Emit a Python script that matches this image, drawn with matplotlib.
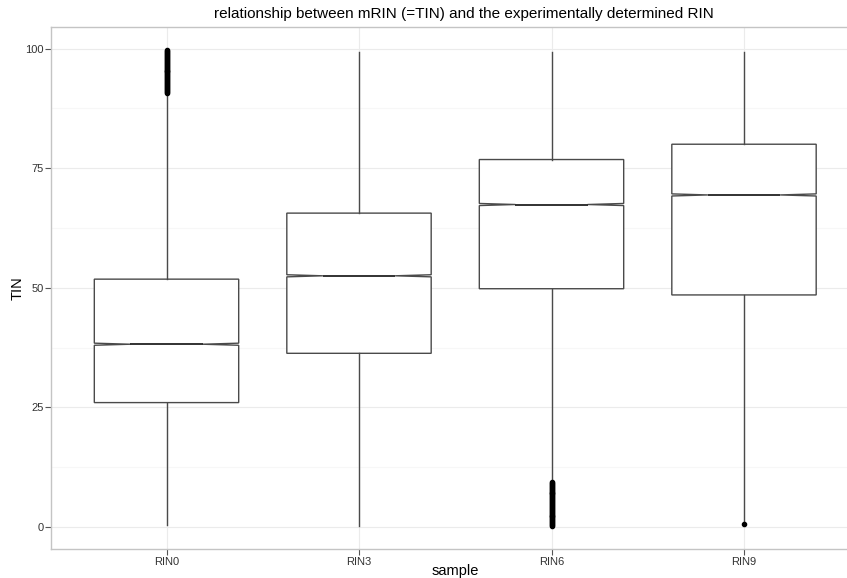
import matplotlib
matplotlib.use("Agg")
import matplotlib.pyplot as plt

categories = ["RIN0", "RIN3", "RIN6", "RIN9"]
whisker_low = [0.4, 0.2, 9.3, 1.2]
q1 = [26.0, 36.3, 49.8, 48.5]
median = [38.2, 52.5, 67.4, 69.4]
q3 = [51.8, 65.6, 76.8, 80.0]
whisker_high = [90.5, 99.3, 99.3, 99.3]
notch_half = [0.22, 0.22, 0.22, 0.22]
outliers = [
    [90.8, 91.0, 91.2, 91.4, 91.6, 91.8, 92.0, 92.2, 92.4, 92.6, 92.8, 93.0,
     93.2, 93.4, 93.6, 93.8, 94.0, 94.2, 94.4, 94.6, 94.8, 95.0, 95.2, 95.4,
     95.6, 95.8, 96.0, 96.2, 96.4, 96.6, 96.8, 97.0, 97.2, 97.4, 97.6, 97.8,
     98.0, 98.2, 98.4, 98.6, 98.8, 99.0, 99.2, 99.4, 99.6],
    [],
    [0.2, 0.4, 0.6, 0.8, 1.0, 1.2, 1.4, 1.6, 1.8, 2.0, 2.2, 2.4, 2.6, 2.8,
     3.0, 3.2, 3.4, 3.6, 3.8, 4.0, 4.2, 4.4, 4.6, 4.8, 5.0, 5.2, 5.4, 5.6,
     5.8, 6.0, 6.2, 6.4, 6.6, 6.8, 7.0, 7.2, 7.4, 7.6, 7.8, 8.0, 8.2, 8.4,
     8.6, 8.8, 9.0, 9.2, 9.4],
    [0.7],
]
yticks = [0, 25, 50, 75, 100]
yminor = [12.5, 37.5, 62.5, 87.5]

plt.rcParams['font.family'] = ['Liberation Sans', 'DejaVu Sans']

fig = plt.figure(figsize=(8.47, 5.78), dpi=100)
ax = fig.add_axes([51/847, 29/578, 808.5/847, 522/578])

stats = []
for i, c in enumerate(categories):
    stats.append(dict(label=c, whislo=whisker_low[i], q1=q1[i], med=median[i],
                      q3=q3[i], whishi=whisker_high[i],
                      cilo=median[i] - notch_half[i], cihi=median[i] + notch_half[i],
                      fliers=outliers[i]))

line_col = '#4a4a4a'
ax.bxp(stats, positions=range(len(categories)), widths=0.75, shownotches=True,
       showcaps=False, patch_artist=True,
       boxprops=dict(facecolor='white', edgecolor=line_col, linewidth=1.0),
       whiskerprops=dict(color=line_col, linewidth=1.0),
       medianprops=dict(color='#222222', linewidth=1.3),
       flierprops=dict(marker='o', markerfacecolor='black', markeredgecolor='black',
                       markersize=3.0, linestyle='none'),
       zorder=3)

ax.set_xlim(-0.6, len(categories) - 1 + 0.6)
ax.set_ylim(-4.6, 104.5)
ax.set_xticks(range(len(categories)))
ax.set_xticklabels(categories)
ax.set_yticks(yticks)
ax.set_yticklabels([str(v) for v in yticks])
ax.set_yticks(yminor, minor=True)

ax.grid(True, which='major', color='#ebebeb', linewidth=0.8, zorder=0)
ax.grid(True, which='minor', axis='y', color='#f7f7f7', linewidth=0.8, zorder=0)
ax.set_axisbelow(True)

for s in ax.spines.values():
    s.set_color('#c4c4c4')
    s.set_linewidth(1.0)

ax.tick_params(axis='both', which='major', length=4, width=0.8, color='#555555',
               labelsize=8, labelcolor='#333333', pad=1.5)
ax.tick_params(axis='y', which='minor', length=0)

ax.set_xlabel('sample', fontsize=10.5)
ax.xaxis.set_label_coords(0.5, -(571 - 549) / 522)
ax.xaxis.label.set_va('center')
ax.set_ylabel('TIN', fontsize=10.5)
ax.yaxis.set_label_coords(-(51 - 18) / 808.5, 0.5)
ax.yaxis.label.set_va('center')
fig.text(464/847, 1 - 14/578, 'relationship between mRIN (=TIN) and the experimentally determined RIN',
         ha='center', va='center', fontsize=11)

fig.savefig('out.png', dpi=100)
